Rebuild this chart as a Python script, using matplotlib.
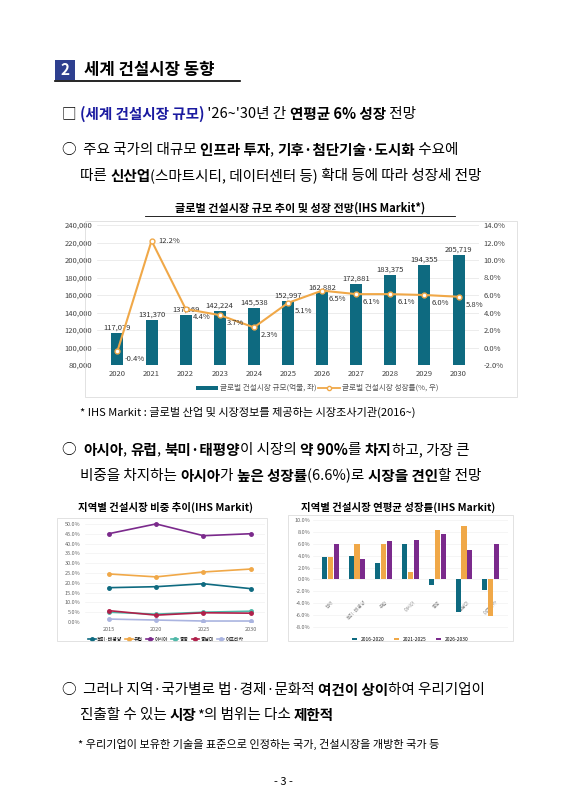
import matplotlib
matplotlib.use("Agg")
import matplotlib.pyplot as plt
from matplotlib.patches import Rectangle
import numpy as np

plt.rcParams['font.family'] = ['Noto Sans CJK KR', 'DejaVu Sans']

years = ["2020","2021","2022","2023","2024","2025","2026","2027","2028","2029","2030"]
market_size = [117079,131370,137169,142224,145538,152997,162882,172881,183375,194355,205719]
growth = [-0.4,12.2,4.4,3.7,2.3,5.1,6.5,6.1,6.1,6.0,5.8]

share_years = ["2015","2020","2025","2030"]
share_regions = ["북미·태평양","유럽","아시아","중동","중남미","아프리카"]
share_na = [17.5,18.0,19.5,17.0]
share_eu = [24.5,23.0,25.5,27.0]
share_as = [45.0,50.0,44.0,45.0]
share_me = [5.0,4.0,5.0,5.5]
share_la = [5.8,3.5,4.7,4.5]
share_af = [1.5,1.0,0.5,0.5]

cagr_regions = ["전체","북미·태평양","유럽","아시아","중동","중남미","아프리카"]
cagr_periods = ["2016-2020","2021-2025","2026-2030"]
cagr_1620 = [3.8,4.0,2.8,5.9,-1.0,-5.5,-1.8]
cagr_2125 = [3.8,5.9,6.0,1.2,8.3,9.0,-6.1]
cagr_2630 = [6.0,3.5,6.5,6.6,7.7,5.0,5.9]

W, H = 566, 800
fig = plt.figure(figsize=(5.66, 8), dpi=100)
fig.patch.set_facecolor("white")
renderer = fig.canvas.get_renderer()

def seg_line(x, y, segs, size=10.5):
    """segs: list of (text, weight, color)"""
    cx = x
    for t, w, c in segs:
        tx = fig.text(cx / W, 1 - y / H, t, fontsize=size, fontweight=w, color=c,
                      va="center", ha="left")
        bb = tx.get_window_extent(renderer=renderer)
        cx += bb.width

K = "black"; B = "#1a1aa0"
# header
fig.patches.append(Rectangle((55/W, 1-80/H), 20/W, 20/H, transform=fig.transFigure,
                             facecolor="#2e3f8f", edgecolor="none"))
fig.text(65/W, 1-70/H, "2", color="white", fontsize=11, ha="center", va="center", fontweight="bold")
fig.text(84/W, 1-70/H, "세계 건설시장 동향", fontsize=12, fontweight="bold", va="center")
fig.lines.append(plt.Line2D([55/W, 240/W], [1-81/H, 1-81/H], transform=fig.transFigure, color="black", lw=1.2))

seg_line(62, 114, [("□ ", "normal", K), ("(세계 건설시장 규모)", "bold", B), (" '26~'30년 간 ", "normal", K),
                   ("연평균 6% 성장", "bold", K), (" 전망", "normal", K)])
seg_line(62, 150, [("○  주요 국가의 대규모 ", "normal", K), ("인프라 투자", "bold", K), (", ", "normal", K),
                   ("기후·첨단기술·도시화", "bold", K), (" 수요에", "normal", K)])
seg_line(80, 176, [("따른 ", "normal", K), ("신산업", "bold", K), ("(스마트시티, 데이터센터 등)", "normal", K),
                   (" 확대 등에 따라 성장세 전망", "normal", K)])

fig.text(300/W, 1-208/H, "글로벌 건설시장 규모 추이 및 성장 전망(IHS Markit*)", fontsize=8, fontweight="bold",
         ha="center", va="center")
fig.lines.append(plt.Line2D([145/W, 455/W], [1-216/H, 1-216/H], transform=fig.transFigure, color="black", lw=0.6))

# main chart
teal = "#0e6a80"; orange = "#f0a848"
ax = fig.add_axes([97/W, 1-365/H, 382/W, 140/H])
x = np.arange(len(years))
ax.bar(x, market_size, width=0.35, color=teal, zorder=2)
ax.set_ylim(80000, 240000)
ax.set_yticks(range(80000, 240001, 20000))
ax.set_yticklabels([f"{v:,}" for v in range(80000, 240001, 20000)], fontsize=5.5, color="#444")
ax.set_xticks(x); ax.set_xticklabels(years, fontsize=5.5, color="#444")
ax.grid(axis="y", color="#e5e5e5", lw=0.5, zorder=0)
for s in ax.spines.values(): s.set_visible(False)
ax.tick_params(length=0)
for xi, v in zip(x, market_size):
    ax.text(xi, v + 1500, f"{v:,}", ha="center", va="bottom", fontsize=5.5, color="#333")
ax2 = ax.twinx()
ax2.plot(x, growth, color=orange, lw=1.5, marker="o", ms=3.5, mfc="white", mec=orange, zorder=3)
ax2.set_ylim(-2, 14)
ax2.set_yticks(range(-2, 15, 2))
ax2.set_yticklabels([f"{v:.1f}%" for v in range(-2, 15, 2)], fontsize=5.5, color="#444")
for s in ax2.spines.values(): s.set_visible(False)
ax2.tick_params(length=0)
for xi, g in zip(x, growth):
    dy = 0 if xi == 1 else -0.9
    ax2.text(xi + 0.2, g + dy, f"{g}%", fontsize=5.5, color="#333", va="center")
ax.set_xlim(-0.6, 10.6)
# legend
fig.patches.append(Rectangle((196/W, 1-390/H), 22/W, 4/H, transform=fig.transFigure, facecolor=teal))
fig.text(220/W, 1-388/H, "글로벌 건설시장 규모(억불, 좌)", fontsize=5.5, color="#555", va="center")
fig.lines.append(plt.Line2D([318/W, 340/W], [1-388/H, 1-388/H], transform=fig.transFigure, color=orange, lw=1.3,
                            marker="o", markevery=[0], ms=0))
fig.lines.append(plt.Line2D([329/W], [1-388/H], transform=fig.transFigure, color=orange, marker="o", ms=3, mfc="white"))
fig.text(342/W, 1-388/H, "글로벌 건설시장 성장률(%, 우)", fontsize=5.5, color="#555", va="center")
fig.patches.append(Rectangle((85/W, 1-397/H), 432/W, 176/H, transform=fig.transFigure, facecolor="none",
                             edgecolor="#dddddd", lw=0.6))

fig.text(80/W, 1-412/H, "* IHS Markit : 글로벌 산업 및 시장정보를 제공하는 시장조사기관(2016~)", fontsize=8, va="center")

seg_line(62, 450, [("○  ", "normal", K), ("아시아", "bold", K), (", ", "normal", K), ("유럽", "bold", K),
                   (", ", "normal", K), ("북미·태평양", "bold", K), ("이 시장의 ", "normal", K), ("약 90%", "bold", K),
                   ("를 ", "normal", K), ("차지", "bold", K), ("하고, 가장 큰", "normal", K)])
seg_line(80, 476, [("비중을 차지하는 ", "normal", K), ("아시아", "bold", K), ("가 ", "normal", K), ("높은 성장률", "bold", K),
                   ("(6.6%)로 ", "normal", K), ("시장을 견인", "bold", K), ("할 전망", "normal", K)])

# small left
fig.text(165/W, 1-507/H, "지역별 건설시장 비중 추이(IHS Markit)", fontsize=7.5, fontweight="bold", ha="center", va="center")
axl = fig.add_axes([85/W, 1-622/H, 180/W, 102/H])
cols = [teal, orange, "#7b2a8c", "#4fb8a8", "#b0204a", "#aab4e0"]
for vals, c, n in zip([share_na, share_eu, share_as, share_me, share_la, share_af], cols, share_regions):
    axl.plot(share_years, vals, color=c, marker="o", ms=2.5, lw=1.2, label=n)
axl.set_ylim(0, 52); axl.set_yticks(range(0, 51, 5))
axl.set_yticklabels([f"{v:.1f}%" for v in range(0, 51, 5)], fontsize=4, color="#666")
axl.tick_params(labelsize=4, length=0, colors="#666")
axl.grid(axis="y", color="#eee", lw=0.4)
axl.set_xlim(-0.5, 3.3)
for s in axl.spines.values(): s.set_visible(False)
axl.legend(loc="upper center", bbox_to_anchor=(0.45, -0.1), ncol=6, fontsize=3.5, frameon=False,
           handlelength=1.5, columnspacing=0.6, handletextpad=0.3)

# small right
fig.text(398/W, 1-507/H, "지역별 건설시장 연평균 성장률(IHS Markit)", fontsize=7.5, fontweight="bold", ha="center", va="center")
axr = fig.add_axes([313/W, 1-630/H, 195/W, 113/H])
xr = np.arange(len(cagr_regions))
bw = 0.22
for i, (vals, c, n) in enumerate(zip([cagr_1620, cagr_2125, cagr_2630], [teal, orange, "#7b2a8c"], cagr_periods)):
    axr.bar(xr + (i - 1) * bw, vals, width=bw * 0.85, color=c, label=n, zorder=2)
axr.set_ylim(-8.5, 10.5); axr.set_yticks(range(-8, 11, 2))
axr.set_yticklabels([f"{v:.1f}%" for v in range(-8, 11, 2)], fontsize=4, color="#666")
axr.set_xticks(xr); axr.set_xticklabels(cagr_regions, fontsize=3.5, rotation=45, color="#888")
axr.tick_params(length=0, pad=-22)
axr.tick_params(axis="y", pad=2)
axr.grid(axis="y", color="#eee", lw=0.4, zorder=0)
for s in axr.spines.values(): s.set_visible(False)
axr.legend(loc="upper center", bbox_to_anchor=(0.5, -0.02), ncol=3, fontsize=3.5, frameon=False,
           handlelength=1, handleheight=0.5)
for bx in [(57, 518, 210, 123), (288, 515, 225, 126)]:
    fig.patches.append(Rectangle((bx[0]/W, 1-(bx[1]+bx[3])/H), bx[2]/W, bx[3]/H, transform=fig.transFigure,
                                 facecolor="none", edgecolor="#dddddd", lw=0.6))

seg_line(62, 690, [("○  그러나 지역·국가별로 법·경제·문화적 ", "normal", K), ("여건이 상이", "bold", K),
                   ("하여 우리기업이", "normal", K)])
seg_line(80, 715, [("진출할 수 있는 ", "normal", K), ("시장", "bold", K), ("*", "normal", K), ("의 범위는 다소 ", "normal", K),
                   ("제한적", "bold", K)])
fig.text(78/W, 1-744/H, "* 우리기업이 보유한 기술을 표준으로 인정하는 국가, 건설시장을 개방한 국가 등", fontsize=8, va="center")
fig.text(283/W, 1-782/H, "- 3 -", fontsize=8, ha="center", va="center")

fig.savefig("out.png", dpi=100)
